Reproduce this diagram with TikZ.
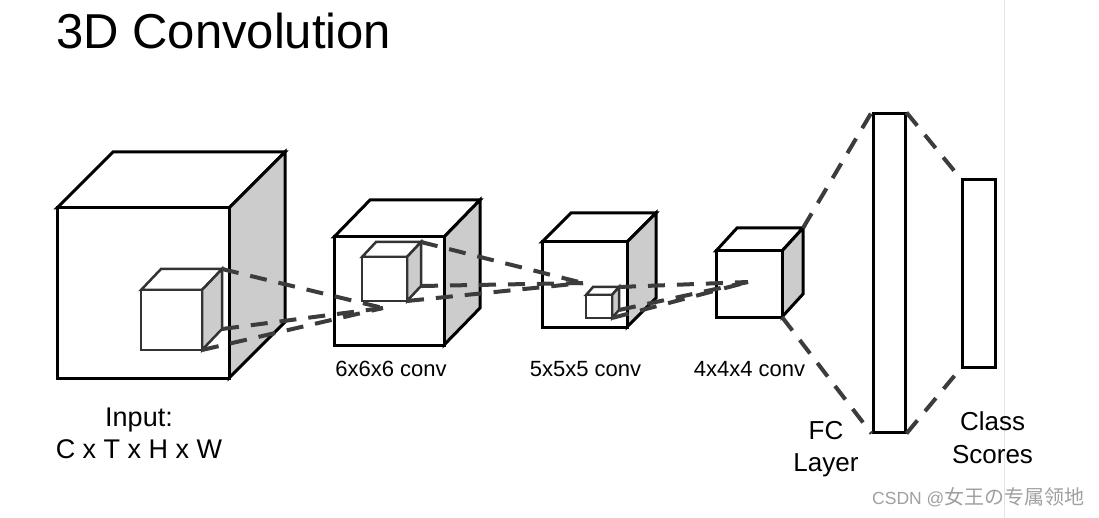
\documentclass[tikz,border=0pt]{standalone}
\usepackage{fontspec}
\setmainfont{Liberation Sans}
\newfontfamily\cjk{Noto Sans CJK SC}
\definecolor{sideface}{HTML}{CCCCCC}
\definecolor{innerc}{HTML}{333333}
\definecolor{dashc}{HTML}{3C3C3C}
\definecolor{wmark}{HTML}{A0A0A0}
\definecolor{edgeline}{HTML}{E4E4E4}
\newcommand\mycube[8]{%
 \coordinate (#2-ftl) at (#3,#4);
 \coordinate (#2-ftr) at (#3+#5,#4);
 \coordinate (#2-fbr) at (#3+#5,#4+#6);
 \coordinate (#2-fbl) at (#3,#4+#6);
 \coordinate (#2-btl) at (#3+#7,#4-#8);
 \coordinate (#2-btr) at (#3+#5+#7,#4-#8);
 \coordinate (#2-bbr) at (#3+#5+#7,#4+#6-#8);
 \draw[#1,fill=white] (#2-ftl) -- (#2-btl) -- (#2-btr) -- (#2-ftr) -- cycle;
 \draw[#1,fill=sideface] (#2-ftr) -- (#2-btr) -- (#2-bbr) -- (#2-fbr) -- cycle;
 \draw[#1,fill=white] (#2-ftl) rectangle (#2-fbr);
}
\tikzset{
 bigcube/.style={line width=3pt, draw=black},
 smallcube/.style={line width=2.5pt, draw=innerc},
 dashline/.style={dash pattern=on 17pt off 12pt, line width=4pt, draw=dashc},
 layerbox/.style={draw=black, line width=3pt, fill=white, inner sep=0pt},
 lbl/.style={inner sep=0pt, text=black},
}
\begin{document}
\begin{tikzpicture}[x=1pt,y=-1pt]
\fill[white] (0,0) rectangle (1099,518);
\useasboundingbox (0,0) rectangle (1099,518);
% light screenshot edge
\coordinate (e1) at (1004,0);
\coordinate (e2) at (1004,518);
\draw[edgeline, line width=0.8pt] (e1) -- (e2);
% title
\node[lbl, anchor=base west, font=\fontsize{49}{58}\selectfont] (title) at (56,49) {3D Convolution};
% cubes
\mycube{bigcube}{c1}{57}{208}{172}{170}{56}{56}
\mycube{bigcube}{c2}{334}{237}{110}{108}{36}{37}
\mycube{bigcube}{c3}{542}{242}{85}{85}{29}{29}
\mycube{bigcube}{c4}{716}{251}{66}{66}{21}{23}
% small kernels
\mycube{smallcube}{s1}{141}{290}{61}{60}{20}{21}
\mycube{smallcube}{s2}{362}{257}{45}{44}{14}{15}
\mycube{smallcube}{s3}{586}{295}{26}{23}{7}{8}
% convergence points
\coordinate (p1) at (383,308);
\coordinate (p2) at (583,283);
\coordinate (p3) at (748,282);
\draw[dashline] (s1-btr) -- (p1);
\draw[dashline] (s1-bbr) -- (p1);
\draw[dashline] (s1-fbr) -- (p1);
\draw[dashline] (s2-btr) -- (p2);
\draw[dashline] (s2-bbr) -- (p2);
\draw[dashline] (s2-fbr) -- (p2);
\draw[dashline] (s3-btr) -- (p3);
\draw[dashline] (s3-bbr) -- (p3);
\draw[dashline] (s3-fbr) -- (p3);
% FC layer and class scores
\node[layerbox, minimum width=32pt, minimum height=318pt] (fc) at (889,273) {};
\node[layerbox, minimum width=33pt, minimum height=187pt] (cs) at (978.5,273.5) {};
\draw[dashline] (c4-btr) -- (fc.north west);
\draw[dashline] (c4-fbr) -- (fc.south west);
\draw[dashline] (fc.north east) -- (cs.north west);
\draw[dashline] (fc.south east) -- (cs.south west);
% labels
\node[lbl, anchor=north, align=center, font=\fontsize{27}{32}\selectfont] (inp) at (139,408) {Input:\\C x T x H x W};
\node[lbl, anchor=base, font=\fontsize{22}{26}\selectfont] (l2) at (391,376) {6x6x6 conv};
\node[lbl, anchor=base, font=\fontsize{22}{26}\selectfont] (l3) at (585.5,376) {5x5x5 conv};
\node[lbl, anchor=base, font=\fontsize{22}{26}\selectfont] (l4) at (749.5,376) {4x4x4 conv};
\node[lbl, anchor=north, align=center, font=\fontsize{26}{32}\selectfont] (fcl) at (826,421) {FC\\Layer};
\node[lbl, anchor=north, align=center, font=\fontsize{26}{33}\selectfont] (csl) at (992.5,411) {Class\\Scores};
% watermark
\node[lbl, anchor=base west, text=wmark, font=\fontsize{17.5}{20}\selectfont] (wm) at (872,504) {CSDN @{\cjk\fontsize{20}{22}\selectfont 女王の专属领地}};
\end{tikzpicture}
\end{document}
